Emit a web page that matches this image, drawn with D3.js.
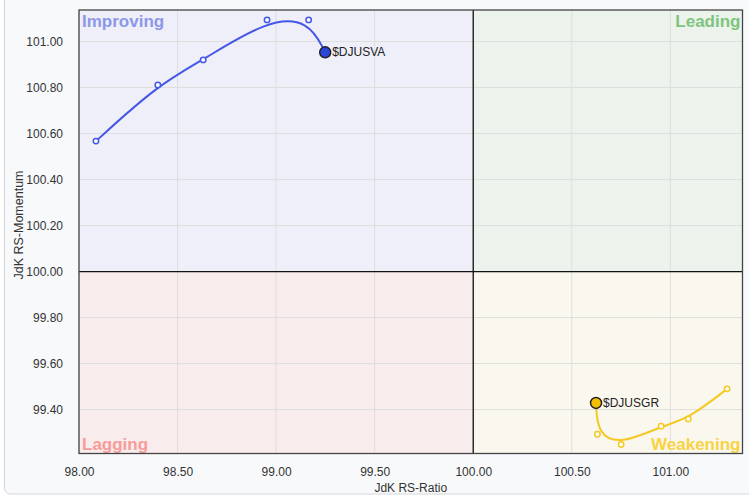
<!DOCTYPE html>
<html>
<head>
<meta charset="utf-8">
<script src="https://cdn.jsdelivr.net/npm/d3@7"></script>
<style>
  html, body { margin: 0; padding: 0; background: #ffffff; }
  svg { display: block; font-family: "Liberation Sans", Arial, sans-serif; }
</style>
</head>
<body>
<svg id="rrg" width="749" height="498"></svg>
<script>
var svg = d3.select("#rrg");
const width = +svg.attr("width");
const height = +svg.attr("height");

// plot box
const plotLeft = 79, plotRight = 742.5, plotTop = 10, plotBottom = 453.5;

// axis ticks
var xTicks = [98.0, 98.5, 99.0, 99.5, 100.0, 100.5, 101.0];
var yTicks = [99.4, 99.6, 99.8, 100.0, 100.2, 100.4, 100.6, 100.8, 101.0];

// tails, oldest first, last point is the head
var vaRatio = [98.086, 98.400, 98.630, 98.954, 99.165, 99.249];
var vaMomentum = [100.567, 100.811, 100.920, 101.094, 101.094, 100.953];
var grRatio = [101.288, 101.091, 100.953, 100.750, 100.630, 100.623];
var grMomentum = [99.490, 99.359, 99.328, 99.248, 99.293, 99.429];

var series = [
  { name: "$DJUSVA", ratio: vaRatio, momentum: vaMomentum, line: "#4457e6", head: "#2b44d9" },
  { name: "$DJUSGR", ratio: grRatio, momentum: grMomentum, line: "#f5c924", head: "#f2be00" }
];

var quadrants = [
  { name: "Improving", x0: 98.0, x1: 100, y0: 100, y1: 101.137, fill: "#efeff9", color: "#8d97e8", anchor: "start", pos: "top" },
  { name: "Leading", x0: 100, x1: 101.366, y0: 100, y1: 101.137, fill: "#ecf3ec", color: "#7ec47e", anchor: "end", pos: "top" },
  { name: "Lagging", x0: 98.0, x1: 100, y0: 99.209, y1: 100, fill: "#f9ecec", color: "#f79b9b", anchor: "start", pos: "bottom" },
  { name: "Weakening", x0: 100, x1: 101.366, y0: 99.209, y1: 100, fill: "#faf7ee", color: "#f8d343", anchor: "end", pos: "bottom" }
];

var xScale = d3.scaleLinear().domain([98.0, 101.366]).range([plotLeft, plotRight]);
var yScale = d3.scaleLinear().domain([99.209, 101.137]).range([plotBottom, plotTop]);

// page frame
svg.append("rect")
  .attr("x", 4.5).attr("y", -10)
  .attr("width", width + 10).attr("height", 504)
  .attr("rx", 6)
  .style("fill", "#f8f9fb")
  .style("stroke", "#d4d6da");

// quadrant backgrounds
svg.selectAll(".quad")
  .data(quadrants)
  .enter().append("rect")
  .attr("class", "quad")
  .attr("x", d => xScale(d.x0))
  .attr("y", d => yScale(d.y1))
  .attr("width", d => xScale(d.x1) - xScale(d.x0))
  .attr("height", d => yScale(d.y0) - yScale(d.y1))
  .style("fill", d => d.fill);

// grid
svg.append("g")
  .selectAll("line")
  .data(xTicks)
  .enter().append("line")
  .attr("x1", d => xScale(d)).attr("x2", d => xScale(d))
  .attr("y1", plotTop).attr("y2", plotBottom)
  .style("stroke", "#dedede");
svg.append("g")
  .selectAll("line")
  .data(yTicks)
  .enter().append("line")
  .attr("y1", d => yScale(d)).attr("y2", d => yScale(d))
  .attr("x1", plotLeft).attr("x2", plotRight)
  .style("stroke", "#dedede");

// center lines
svg.append("line")
  .attr("x1", xScale(100)).attr("x2", xScale(100))
  .attr("y1", plotTop).attr("y2", plotBottom)
  .style("stroke", "#111").style("stroke-width", 1.3);
svg.append("line")
  .attr("y1", yScale(100)).attr("y2", yScale(100))
  .attr("x1", plotLeft).attr("x2", plotRight)
  .style("stroke", "#111").style("stroke-width", 1.3);

// quadrant labels
svg.selectAll(".qlabel")
  .data(quadrants)
  .enter().append("text")
  .attr("class", "qlabel")
  .attr("x", d => d.anchor == "start" ? plotLeft + 3 : plotRight - 2)
  .attr("y", d => d.pos == "top" ? plotTop + 17 : plotBottom - 4)
  .attr("text-anchor", d => d.anchor)
  .style("font-size", "17px")
  .style("font-weight", "bold")
  .style("fill", d => d.color)
  .text(d => d.name);

// axes
var xAxis = d3.axisBottom(xScale).tickValues(xTicks).tickFormat(d3.format(".2f")).tickSize(0).tickPadding(14);
svg.append("g")
  .attr("transform", "translate(0," + plotBottom + ")")
  .call(xAxis)
  .call(g => g.select(".domain").remove())
  .selectAll("text")
  .style("font-size", "12px")
  .style("fill", "#333")
  .style("font-family", "Liberation Sans, Arial, sans-serif");

var yAxis = d3.axisLeft(yScale).tickValues(yTicks).tickFormat(d3.format(".2f")).tickSize(0).tickPadding(16);
svg.append("g")
  .attr("transform", "translate(" + plotLeft + ",0)")
  .call(yAxis)
  .call(g => g.select(".domain").remove())
  .selectAll("text")
  .style("font-size", "12px")
  .style("fill", "#333")
  .style("font-family", "Liberation Sans, Arial, sans-serif");

// plot border
svg.append("rect")
  .attr("x", plotLeft).attr("y", plotTop)
  .attr("width", plotRight - plotLeft).attr("height", plotBottom - plotTop)
  .style("fill", "none")
  .style("stroke", "#444")
  .style("stroke-width", 1.3);

// axis titles
svg.append("text")
  .attr("x", (plotLeft + plotRight) / 2).attr("y", 492)
  .attr("text-anchor", "middle")
  .style("font-size", "12px").style("fill", "#333")
  .text("JdK RS-Ratio");
svg.append("text")
  .attr("transform", "translate(23,225)rotate(-90)")
  .attr("text-anchor", "middle")
  .style("font-size", "12.5px").style("fill", "#333")
  .text("JdK RS-Momentum");

// tails
var line = d3.line()
  .x(d => xScale(d[0]))
  .y(d => yScale(d[1]))
  .curve(d3.curveBasis);

series.forEach(function (s) {
  var pts = s.ratio.map((r, i) => [r, s.momentum[i]]);
  var g = svg.append("g");
  g.append("path")
    .datum(pts)
    .attr("d", line)
    .style("fill", "none")
    .style("stroke", s.line)
    .style("stroke-width", 2);
  g.selectAll("circle.tail")
    .data(pts.slice(0, -1))
    .enter().append("circle")
    .attr("class", "tail")
    .attr("cx", d => xScale(d[0]))
    .attr("cy", d => yScale(d[1]))
    .attr("r", 2.7)
    .style("fill", "#fff")
    .style("stroke", s.line)
    .style("stroke-width", 1.5);
  var head = pts[pts.length - 1];
  g.append("circle")
    .attr("cx", xScale(head[0]))
    .attr("cy", yScale(head[1]))
    .attr("r", 5.5)
    .style("fill", s.head)
    .style("stroke", "#222")
    .style("stroke-width", 1.5);
  g.append("text")
    .attr("x", xScale(head[0]) + 7)
    .attr("y", yScale(head[1]) + 4)
    .style("font-size", "12px")
    .style("fill", "#222")
    .text(s.name);
});
</script>
</body>
</html>
